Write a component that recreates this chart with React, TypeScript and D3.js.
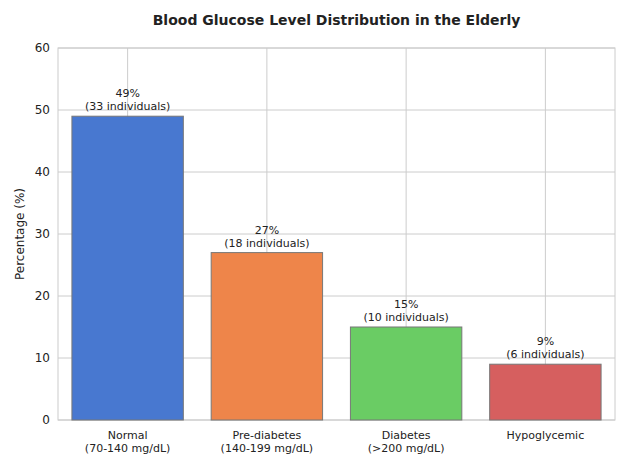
import React from 'react';
import * as d3 from 'd3';

const categories = ['Normal\n(70-140 mg/dL)', 'Pre-diabetes\n(140-199 mg/dL)', 'Diabetes\n(>200 mg/dL)', 'Hypoglycemic'];
const percentages = [49, 27, 15, 9];
const counts = [33, 18, 10, 6];
const colors = ['#4878d0', '#ee854a', '#6acc64', '#d65f5f'];
const yTicks = [0, 10, 20, 30, 40, 50, 60];

const W = 627, H = 471;
const m = { left: 58, right: 12, top: 48, bottom: 51 };

export default function App() {
  const x = d3.scaleBand().domain(categories).range([m.left, W - m.right]).paddingInner(0.2).paddingOuter(0.1);
  const y = d3.scaleLinear().domain([0, 60]).range([H - m.bottom, m.top]);
  const font = 'DejaVu Sans, sans-serif';
  return (
    <svg width={W} height={H} style={{ position: 'fixed', left: 0, top: 0, background: '#fff' }} fontFamily={font}>
      <text x={(m.left + W - m.right) / 2} y={25} textAnchor="middle" fontSize={14} fontWeight="bold" fill="#222">
        Blood Glucose Level Distribution in the Elderly
      </text>
      {yTicks.map(t => (
        <g key={t}>
          <line x1={m.left} x2={W - m.right} y1={y(t)} y2={y(t)} stroke="#ccc" />
          <text x={m.left - 8} y={y(t)} dy="0.35em" textAnchor="end" fontSize={12} fill="#222">{t}</text>
        </g>
      ))}
      {categories.map(c => (
        <line key={c} x1={x(c)! + x.bandwidth() / 2} x2={x(c)! + x.bandwidth() / 2} y1={m.top} y2={H - m.bottom} stroke="#ccc" />
      ))}
      <rect x={m.left} y={m.top} width={W - m.right - m.left} height={H - m.bottom - m.top} fill="none" stroke="#ccc" />
      {categories.map((c, i) => {
        const cx = x(c)! + x.bandwidth() / 2;
        return (
          <g key={c}>
            <rect x={x(c)} y={y(percentages[i])} width={x.bandwidth()} height={y(0) - y(percentages[i])} fill={colors[i]} stroke="#777" strokeWidth={1} />
            <text x={cx} y={y(percentages[i]) - 19} textAnchor="middle" fontSize={11} fill="#222">{percentages[i]}%</text>
            <text x={cx} y={y(percentages[i]) - 6} textAnchor="middle" fontSize={11} fill="#222">({counts[i]} individuals)</text>
            {c.split('\n').map((l, j) => (
              <text key={j} x={cx} y={H - m.bottom + 19 + j * 13} textAnchor="middle" fontSize={11} fill="#222">{l}</text>
            ))}
          </g>
        );
      })}
      <text transform={`translate(24,${(m.top + H - m.bottom) / 2}) rotate(-90)`} textAnchor="middle" fontSize={12} fill="#222">Percentage (%)</text>
    </svg>
  );
}
